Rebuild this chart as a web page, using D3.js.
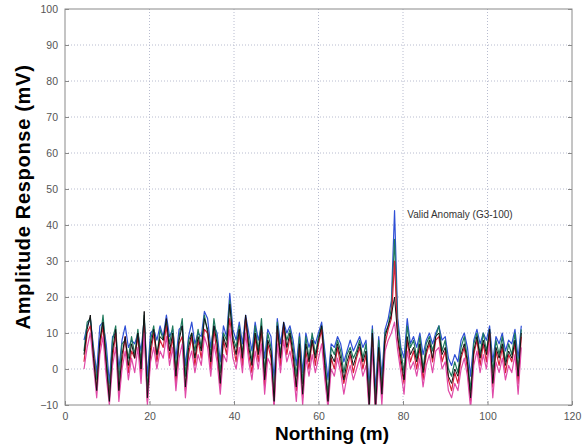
<!DOCTYPE html>
<html><head><meta charset="utf-8">
<script src="https://cdn.jsdelivr.net/npm/d3@7"></script>
<style>html,body{margin:0;padding:0;background:#fff;}svg{display:block;}</style>
</head><body>
<svg id="chart" width="584" height="448"></svg>
<script>
// Northing positions: 4.5 m to 108 m every 0.75 m (139 samples)
const northing = d3.range(139).map(i => 4.5 + 0.75 * i);

const seriesBlack = [4,11,15,3,-6,8,13,2,-9,5, 11,-6,4,9,1,7,3,10,0,16, -8,6,11,4,9,8,14,5,10,-2, 8,12,-5,6,10,3,9,5,14,11,
  2,12,7,-4,9,6,18,8,4,11, 3,15,6,1,10,4,12,-3,8,5, -9,12,3,13,6,10,4,-5,7,-7, 7,2,8,3,8,12,1,-9,4,2,
  7,3,-3,2,5,1,4,7,2,5, -10,10,-11,6,-7,9,12,15,20,9, 3,-3,9,4,6,2,7,-1,5,8, 3,9,10,4,6,-2,-4,0,-2,4,
  7,2,-8,5,9,3,8,4,11,-4, 6,3,7,1,5,3,8,-2,10];
const seriesBlue = [8,12,14,6,-1,12,13,7,-4,9, 10,0,8,12,6,8,7,10,5,14, -2,10,11,8,12,9,15,9,11,3, 11,12,1,9,13,7,10,9,16,14,
  6,12,10,2,12,9,21,11,8,13, 7,15,10,5,13,8,12,3,11,9, -3,14,7,13,10,12,8,1,10,-1, 10,6,9,7,10,13,5,-3,7,6,
  9,7,2,5,8,5,7,9,6,8, -5,12,-6,9,-2,11,14,19,44,14, 6,3,14,7,9,6,10,4,8,10, 7,10,12,8,9,3,1,4,2,8,
  10,6,-2,8,11,7,10,8,12,2, 9,7,10,5,8,7,11,3,12];
const seriesGreen = [5,13,14,5,-3,7,15,4,-7,8, 12,-3,7,8,3,9,4,11,2,15, -6,8,12,3,11,8,13,7,12,0, 9,14,-2,8,10,5,11,6,15,10,
  4,14,8,-1,10,8,19,9,6,12, 4,14,8,2,12,5,14,-1,10,6, -7,13,4,12,8,11,6,-2,9,-4, 9,3,10,4,9,12,3,-7,6,4,
  8,5,-1,4,6,3,5,8,3,7, -8,11,-9,8,-5,10,12,17,36,12, 5,-1,12,6,8,3,9,0,7,9, 5,9,12,5,8,0,-2,2,-1,6,
  9,3,-6,7,10,4,10,5,11,-1, 8,4,9,2,7,4,10,0,11];
const seriesRed = [2,10,12,4,-6,6,12,0,-8,3, 10,-7,2,9,-1,5,3,9,-2,12, -9,4,10,2,8,6,12,3,9,-4, 7,9,-6,4,9,1,8,3,11,10,
  0,11,4,-5,8,4,14,7,2,10, 1,14,4,-1,9,2,11,-5,7,3, -10,11,1,12,4,9,2,-6,6,-8, 5,0,8,1,7,11,-1,-10,3,0,
  6,1,-4,0,4,-1,3,6,0,4, -11,9,-12,5,-8,7,11,14,30,8, 1,-4,8,2,5,0,6,-3,4,7, 2,8,9,2,5,-3,-6,-1,-4,3,
  6,0,-9,4,8,1,7,2,10,-5, 5,1,6,-1,4,2,7,-4,9];
const seriesMagenta = [0,6,10,1,-8,4,9,-2,-10,1, 6,-9,0,5,-3,3,-1,6,-4,10, -10,2,6,0,5,3,9,1,6,-6, 3,7,-8,2,5,-1,4,1,9,6,
  -2,7,2,-7,4,2,11,3,0,6, -1,10,2,-3,5,0,7,-7,3,1, -11,7,-1,8,2,5,0,-9,3,-10, 3,-2,4,-1,3,7,-3,-11,0,-2,
  3,-1,-7,-2,1,-3,0,3,-2,1, -12,6,-13,2,-10,5,8,10,13,5, -1,-7,5,0,2,-2,3,-5,1,4, -1,5,6,0,2,-6,-8,-4,-6,0,
  3,-2,-11,1,5,-1,4,0,7,-8, 2,-1,3,-3,1,-1,4,-7,6];

const xTicks = [0, 20, 40, 60, 80, 100, 120];
const yTicks = [-10, 0, 10, 20, 30, 40, 50, 60, 70, 80, 90, 100];
const annotationText = "Valid Anomaly (G3-100)";
const xLabel = "Northing (m)";
const yLabel = "Amplitude Response (mV)";

const series = [
  {vals: seriesBlue, color: "#2f4fd6", w: 1.2},
  {vals: seriesGreen, color: "#1f7a5c", w: 1.2},
  {vals: seriesRed, color: "#d8203c", w: 1.2},
  {vals: seriesMagenta, color: "#e04aa8", w: 1.2},
  {vals: seriesBlack, color: "#111111", w: 1.0}
];

const L = 65, R = 572, T = 9, B = 405;
const svg = d3.select("#chart");
const x = d3.scaleLinear().domain([0, 120]).range([L, R]);
const y = d3.scaleLinear().domain([-10, 100]).range([B, T]);

svg.append("defs").append("clipPath").attr("id", "clip")
  .append("rect").attr("x", L).attr("y", T).attr("width", R - L).attr("height", B - T);

// grid
const grid = svg.append("g");
grid.selectAll("line.v").data(xTicks.slice(1, -1)).join("line")
  .attr("x1", d => x(d)).attr("x2", d => x(d)).attr("y1", T).attr("y2", B)
  .attr("stroke", "#b8bccf").attr("stroke-width", 1).attr("stroke-dasharray", "1,2");
grid.selectAll("line.h").data(yTicks.slice(1, -1)).join("line")
  .attr("x1", L).attr("x2", R).attr("y1", d => y(d)).attr("y2", d => y(d))
  .attr("stroke", "#b8bccf").attr("stroke-width", 1).attr("stroke-dasharray", "1,2");

// lines
const line = d3.line().x((d, i) => x(northing[i])).y(d => y(d));
const lg = svg.append("g").attr("clip-path", "url(#clip)");
series.forEach(s => {
  lg.append("path").datum(s.vals).attr("d", line)
    .attr("fill", "none").attr("stroke", s.color).attr("stroke-width", s.w)
    .attr("stroke-linejoin", "round");
});

// frame
svg.append("rect").attr("x", L).attr("y", T).attr("width", R - L).attr("height", B - T)
  .attr("fill", "none").attr("stroke", "#8a8a8a").attr("stroke-width", 1);

// axes
const ax = svg.append("g").attr("transform", `translate(0,${B})`)
  .call(d3.axisBottom(x).tickValues(xTicks).tickSize(-4).tickPadding(8).tickFormat(d3.format("d")));
const ay = svg.append("g").attr("transform", `translate(${L},0)`)
  .call(d3.axisLeft(y).tickValues(yTicks).tickSize(-4).tickPadding(7).tickFormat(d3.format("d")));
[ax, ay].forEach(g => {
  g.select(".domain").remove();
  g.selectAll(".tick line").attr("stroke", "#8a8a8a");
  g.selectAll(".tick text").attr("fill", "#555").style("font-family", "Arial, 'Liberation Sans', sans-serif").style("font-size", "10.5px");
});
// right ticks
svg.append("g").attr("transform", `translate(${R},0)`)
  .call(d3.axisRight(y).tickValues(yTicks).tickSize(-4).tickFormat(""))
  .call(g => { g.select(".domain").remove(); g.selectAll(".tick line").attr("stroke", "#8a8a8a"); });

// annotation
svg.append("text").attr("x", x(81)).attr("y", y(43)).attr("dy", "0.35em")
  .attr("fill", "#333").style("font-family", "Arial, 'Liberation Sans', sans-serif").style("font-size", "10px")
  .text(annotationText);

// labels
svg.append("text").attr("x", 332).attr("y", 440).attr("text-anchor", "middle")
  .style("font-family", "Arial, 'Liberation Sans', sans-serif").style("font-weight", "bold").style("font-size", "19px")
  .attr("fill", "#000").text(xLabel);
svg.append("text").attr("transform", "translate(30,197) rotate(-90)").attr("text-anchor", "middle")
  .style("font-family", "Arial, 'Liberation Sans', sans-serif").style("font-weight", "bold").style("font-size", "20px")
  .style("letter-spacing", "0.7px")
  .attr("fill", "#000").text(yLabel);
</script>
</body></html>
